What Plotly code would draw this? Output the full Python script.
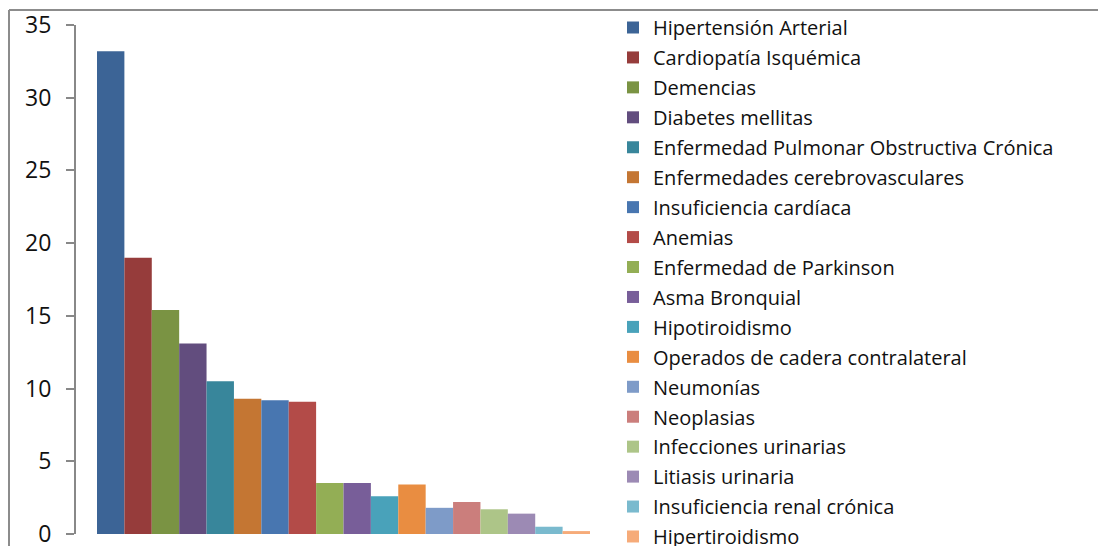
import plotly.graph_objects as go

categories = [
    "Hipertensión Arterial",
    "Cardiopatía Isquémica",
    "Demencias",
    "Diabetes mellitas",
    "Enfermedad Pulmonar Obstructiva Crónica",
    "Enfermedades cerebrovasculares",
    "Insuficiencia cardíaca",
    "Anemias",
    "Enfermedad de Parkinson",
    "Asma Bronquial",
    "Hipotiroidismo",
    "Operados de cadera contralateral",
    "Neumonías",
    "Neoplasias",
    "Infecciones urinarias",
    "Litiasis urinaria",
    "Insuficiencia renal crónica",
    "Hipertiroidismo",
]
values = [33.2, 19.0, 15.4, 13.1, 10.5, 9.3, 9.2, 9.1, 3.5, 3.5, 2.6, 3.4,
          1.8, 2.2, 1.7, 1.4, 0.5, 0.2]
colors = ["#3C6496", "#963C3B", "#7A9343", "#624D7E", "#38869B", "#C47633",
          "#4876B0", "#B34B48", "#93AE55", "#785E99", "#49A2BA", "#E98D41",
          "#7E9BC8", "#CB7E7C", "#ADC588", "#9C8AB4", "#7ABACE", "#F6AB79"]
y_ticks = [0, 5, 10, 15, 20, 25, 30, 35]

# page is offset by the 8px body margin; figure coordinates below are page - 8
W, H = 1098, 538
L, R, T, B = 68, 603, 16.5, 526.5

fig = go.Figure()
for name, v, c in zip(categories, values, colors):
    fig.add_trace(go.Bar(x=[0], y=[v], name=name, marker=dict(color=c, line=dict(width=0)),
                         legendgroup=name))

fig.update_layout(
    width=W, height=H,
    margin=dict(l=L, r=W - R, t=T, b=H - B, pad=0, autoexpand=False),
    paper_bgcolor="white", plot_bgcolor="white",
    barmode="group", bargap=0.0785, bargroupgap=0,
    font=dict(family="Open Sans", color="#111111"),
    showlegend=True,
    legend=dict(
        xref="container", yref="container",
        x=605 / W, xanchor="left",
        y=1 + 4 / H, yanchor="top",
        font=dict(family="Open Sans", size=20, color="#111111"),
        tracegroupgap=0.94, bgcolor="rgba(0,0,0,0)", borderwidth=0,
        maxheight=2000,
    ),
    xaxis=dict(range=[-0.5, 0.5], showticklabels=False, showline=False,
               showgrid=False, zeroline=False, ticks=""),
    yaxis=dict(range=[0, 35], tickvals=y_ticks, ticktext=[str(t) for t in y_ticks],
               showline=True, linecolor="#888888", linewidth=2,
               ticks="outside", ticklen=8, tickwidth=2, tickcolor="#888888",
               showgrid=False, zeroline=False,
               tickfont=dict(family="Open Sans", size=23, color="#111111"),
               ticklabelstandoff=10, ticklabeloverflow="allow"),
)

# chart-area border (cropped outer frame)
px_x = lambda p: (p - L) / (R - L)
px_y = lambda p: (B - p) / (B - T)
fig.add_shape(type="line", xref="paper", yref="paper",
              x0=px_x(1), x1=px_x(1120), y0=px_y(1.5), y1=px_y(1.5),
              line=dict(color="#8C8C8C", width=2))
fig.add_shape(type="line", xref="paper", yref="paper",
              x0=px_x(1), x1=px_x(1), y0=px_y(1.5), y1=px_y(560),
              line=dict(color="#8C8C8C", width=2))

fig.write_html("out.html")
